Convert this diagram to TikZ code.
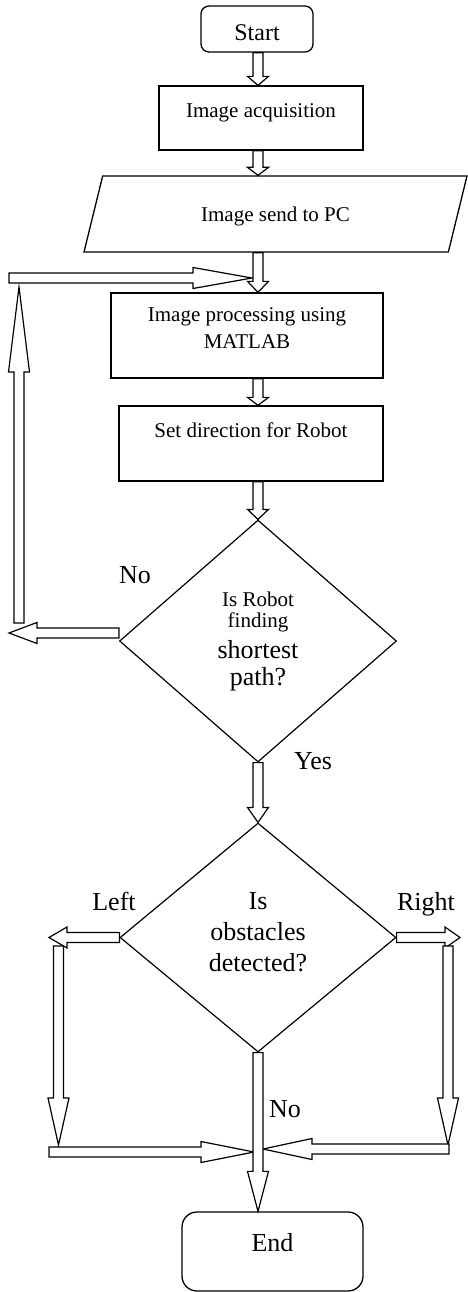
\documentclass[tikz,border=0pt]{standalone}
\usepackage{fontspec}
\setmainfont{Liberation Serif}
\usepackage{tikz}
\usetikzlibrary{calc,positioning,shapes.geometric}

\newcommand{\fsm}{\fontsize{10.5pt}{13.5pt}\selectfont}
\newcommand{\flg}{\fontsize{13pt}{15.5pt}\selectfont}
\def\shaft{2.5pt} % half width of the hollow arrows
\def\head{5.25pt} % half width of their heads

\tikzset{
  term/.style={rectangle, rounded corners=4pt, draw=black, line width=0.65pt},
  prog/.style={rectangle, draw=black, line width=0.65pt, font=\fsm, align=center},
  io/.style={trapezium, trapezium left angle=38.4, trapezium right angle=141.6, trapezium stretches body,
    draw=black, line width=0.65pt, font=\fsm, inner sep=0pt},
  test/.style={diamond, draw=black, line width=0.6pt, align=center, font=\flg, inner sep=0pt},
  lbl/.style={font=\flg, inner sep=0pt},
  % hollow block arrow, #1 = length of the head
  blk/.style={draw=black, fill=white, line width=0.6pt, to path={
       ($(\tikztostart)!\shaft!90:(\tikztotarget)$)
    -- ($(\tikztotarget)!#1!(\tikztostart)!\shaft!90:(\tikztotarget)$)
    -- ($(\tikztotarget)!#1!(\tikztostart)!\head!90:(\tikztotarget)$)
    -- (\tikztotarget)
    -- ($(\tikztotarget)!#1!(\tikztostart)!\head!-90:(\tikztotarget)$)
    -- ($(\tikztotarget)!#1!(\tikztostart)!\shaft!-90:(\tikztotarget)$)
    -- ($(\tikztostart)!\shaft!-90:(\tikztotarget)$) -- cycle}},
  blk/.default=4pt,
}

\begin{document}
\begin{tikzpicture}[x=0.5pt, y=-0.5pt]
\useasboundingbox (0,0) rectangle (467,1292);

  \node[term, minimum width=56pt, minimum height=23pt, font=\fontsize{12pt}{14pt}\selectfont, text height=11.7pt, text depth=0pt] (start) at (257,29) {Start};
  \node[prog, minimum width=102pt, minimum height=32pt, text height=7.2pt, text depth=8.2pt] (acq) at (261,118) {Image acquisition};
  \node[io, minimum width=191.5pt, minimum height=38pt, text height=7.2pt, text depth=0.2pt] (send) at (275.5,214) {Image send to PC};
  \node[prog, minimum width=136pt, minimum height=42.5pt] (proc) at (247,335.5) {Image processing using\\MATLAB\rule[-7.5pt]{0pt}{7.5pt}};
  \node[prog, minimum width=132pt, minimum height=37.5pt, text height=7.2pt, text depth=13.7pt] (dir) at (251,443.5) {Set direction for Robot};
  \node[test, minimum width=138.5pt, minimum height=121pt] (found) at (258,641) {{\fsm Is Robot}\\[-5pt]{\fsm finding}\\shortest\\[-2pt]path?};
  \node[test, minimum width=138pt, minimum height=114.5pt] (obst) at (258,937.5) {Is\\obstacles\\detected?\rule[-6pt]{0pt}{6pt}};
  \node[term, rounded corners=7.5pt, minimum width=90.5pt, minimum height=39.5pt, font=\flg, text height=8.6pt, text depth=9.1pt] (fin) at (272.5,1251.5) {End};

  \node[lbl] (lblno) at (135,575) {No};
  \node[lbl] (lblyes) at (313,761) {Yes};
  \node[lbl] (lblleft) at (114,901.5) {Left};
  \node[lbl] (lblright) at (426,904) {Right};
  \node[lbl] (lblno2) at (285,1109) {No};

  % way back to the processing step
  \coordinate (backA) at (9,633);
  \coordinate (backB) at (19,623);
  \coordinate (backC) at (19,287);
  \coordinate (backD) at (9,278);
  \coordinate (backE) at (252,278);
  % side branches
  \coordinate (lA) at (49,937.5);
  \coordinate (lB) at (58.5,946);
  \coordinate (lC) at (58.5,1145);
  \coordinate (lD) at (49,1152);
  \coordinate (lE) at (254,1152);
  \coordinate (rA) at (460,937.5);
  \coordinate (rB) at (448,946);
  \coordinate (rC) at (448,1145);
  \coordinate (rD) at (449,1149);
  \coordinate (rE) at (263,1149);

  \draw[blk=14pt] ([yshift=4pt]found.west) to (backA);
  \draw[blk=42.5pt] (backB) to (backC);
  \draw[blk=29.5pt] (backD) to (backE);
  \draw[blk=4.5pt] (start.south -| found) to (acq.north -| found);
  \draw[blk=4pt] (acq.south -| found) to (send.north -| found);
  \draw[blk=5.5pt] (send.south -| found) to (proc.north -| found);
  \draw[blk=4pt] (proc.south -| found) to (dir.north -| found);
  \draw[blk=5pt] (dir.south -| found) to (found.north);
  \draw[blk=7.5pt] (found.south) to (obst.north);

  \draw[blk=9pt] (obst.west) to (lA);
  \draw[blk=23.5pt] (lB) to (lC);
  \draw[blk=26.5pt] (lD) to (lE);
  \draw[blk=7.5pt] (obst.east) to (rA);
  \draw[blk=23.5pt] (rB) to (rC);
  \draw[blk=24.5pt] (rD) to (rE);
  \draw[blk=20pt] (obst.south) to (fin.north -| obst);
\end{tikzpicture}
\end{document}
